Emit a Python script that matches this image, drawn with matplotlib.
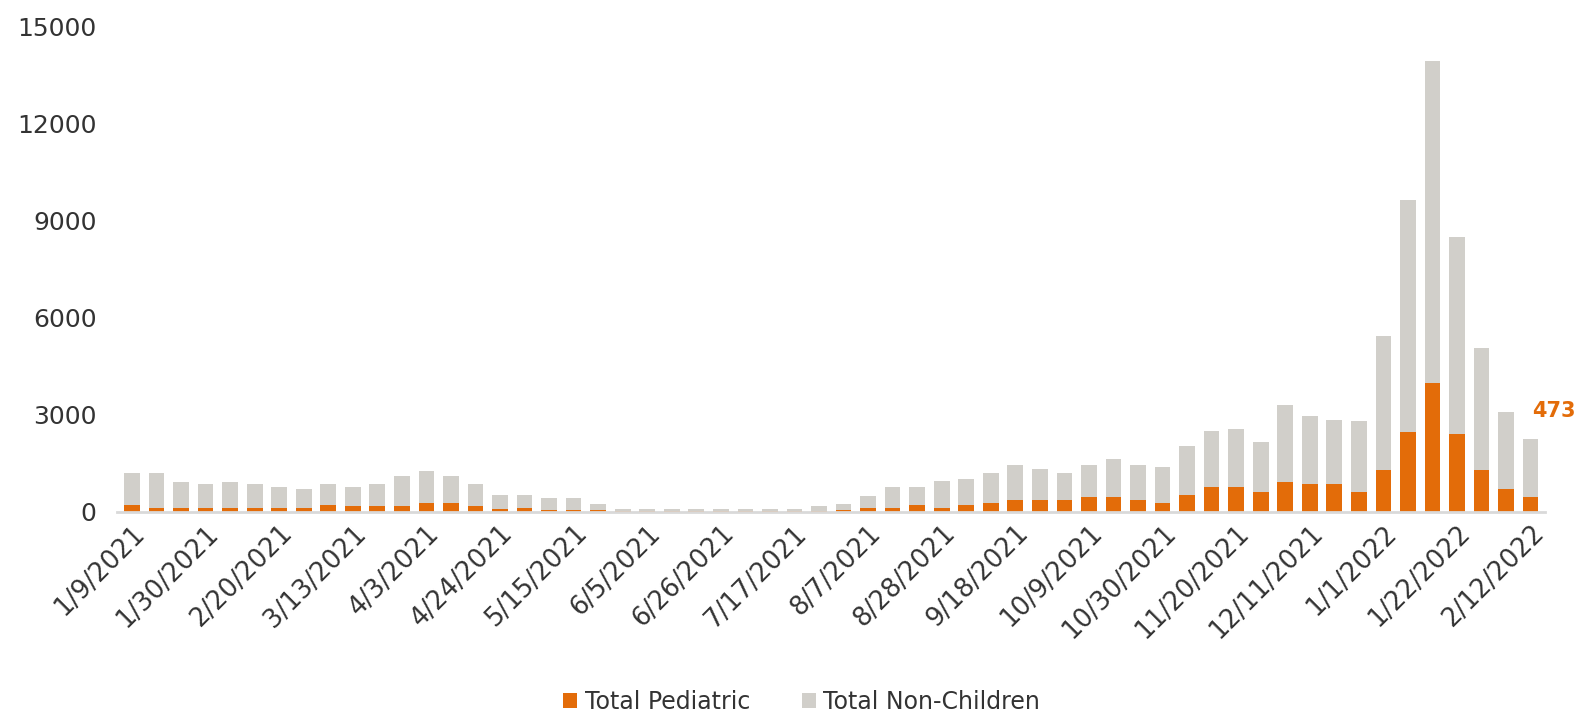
import numpy as np
import matplotlib
matplotlib.use('Agg')
import matplotlib.pyplot as plt
import pandas as pd

# weekly categories, 1/9/2021 .. 2/12/2022
weeks = pd.date_range('2021-01-09', periods=58, freq='7D')
week_labels = [f'{d.month}/{d.day}/{d.year}' for d in weeks]

# (stack total = pediatric + non-children)
total = [1190, 1190, 940, 860, 940, 860, 775, 700, 860, 775,
         860, 1110, 1260, 1110, 860, 525, 525, 430, 430, 250,
         90, 90, 90, 90, 90, 90, 90, 90, 180, 260,
         480, 775, 775, 950, 1025, 1195, 1465, 1330, 1190, 1465,
         1640, 1465, 1405, 2040, 2490, 2580, 2165, 3305, 2980, 2830,
         2815, 5440, 9645, 13950, 8495, 5065, 3105, 2270]
pediatric = [200, 115, 115, 115, 115, 115, 115, 115, 200, 195,
             195, 195, 265, 265, 195, 80, 115, 70, 70, 60,
             25, 25, 25, 25, 25, 25, 25, 25, 40, 60,
             120, 115, 205, 120, 205, 275, 360, 360, 360, 460,
             450, 360, 275, 530, 765, 765, 610, 935, 860, 860,
             617, 1297, 2479, 4000, 2395, 1297, 700, 473]
non_children = [t - p for t, p in zip(total, pediatric)]

orange = '#E36C09'
grey = '#D1CFCA'
txt = '#333333'

fig = plt.figure(figsize=(15.78, 7.19), dpi=100)
ax = fig.add_axes([0.0743, 0.288, 0.905, 0.6745])

x = np.arange(len(weeks))
ax.bar(x, pediatric, width=0.64, color=orange, label='Total Pediatric')
ax.bar(x, non_children, width=0.64, bottom=pediatric, color=grey, label='Total Non-Children')

ax.set_xlim(-0.6, 57.6)
ax.set_ylim(0, 15000)
ax.set_yticks(range(0, 15001, 3000))
ax.tick_params(axis='y', length=0, pad=15, labelsize=18, labelcolor=txt)

ax.set_xticks(x[::3])
ax.set_xticklabels(week_labels[::3], rotation=45, ha='right', rotation_mode='anchor')
ax.tick_params(axis='x', length=0, pad=6, labelsize=18.5, labelcolor=txt)

for s in ['top', 'right', 'left']:
    ax.spines[s].set_visible(False)
ax.spines['bottom'].set_color('#D9D9D9')
ax.spines['bottom'].set_linewidth(2)

ax.annotate(str(pediatric[-1]), xy=(x[-1], total[-1]), xytext=(17, 20),
            textcoords='offset points', ha='center', va='center',
            color=orange, fontsize=15, fontweight='bold', annotation_clip=False)

fig.legend(loc='center', bbox_to_anchor=(0.508, 1 - 702 / 719), ncol=2,
           frameon=False, fontsize=17, handlelength=0.6, handleheight=0.6,
           handletextpad=0.3, columnspacing=2.2, labelcolor=txt)

fig.savefig('out.png', dpi=100)
